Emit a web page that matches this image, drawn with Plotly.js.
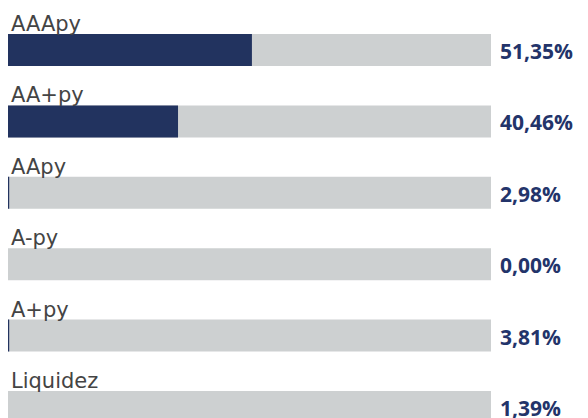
<!DOCTYPE html>
<html>
<head>
<meta charset="utf-8">
<script src="https://cdn.plot.ly/plotly-3.0.1.min.js"></script>
<style>html,body{margin:0;padding:0;background:#fff;}#chart{width:588px;height:418px;}</style>
</head>
<body>
<div id="chart"></div>
<script>
// Categories (top to bottom)
const categories = ["AAApy", "AA+py", "AApy", "A-py", "A+py", "Liquidez"];
// Value labels as printed
const valueLabels = ["51,35%", "40,46%", "2,98%", "0,00%", "3,81%", "1,39%"];
// Filled bar lengths (% of full track)
const fillLengths = [50.5, 35.2, 0.25, 0, 0.25, 0];
// Full track length
const trackLengths = [100, 100, 100, 100, 100, 100];

const NAVY = "#22335f";
const GREY = "#cdd0d1";

const traces = [
  {
    type: "bar", orientation: "h",
    y: categories, x: trackLengths,
    marker: {color: GREY}, width: 0.448,
    hoverinfo: "skip"
  },
  {
    type: "bar", orientation: "h",
    y: categories, x: fillLengths,
    marker: {color: NAVY}, width: 0.448,
    hoverinfo: "skip"
  }
];

const annotations = [];
categories.forEach((c, i) => {
  annotations.push({
    xref: "paper", yref: "y", x: 0, y: c,
    xanchor: "left", yanchor: "bottom", yshift: 12, xshift: 1,
    text: c, showarrow: false,
    font: {family: "DejaVu Sans", size: 21, weight: 400, color: "#444444"}
  });
  annotations.push({
    xref: "paper", yref: "y", x: 1, y: c,
    xanchor: "left", yanchor: "middle", xshift: 7, yshift: -1,
    text: "<b>" + valueLabels[i] + "</b>", showarrow: false,
    font: {family: "Open Sans", size: 21, color: "#23346a"}
  });
});

const layout = {
  width: 588, height: 418,
  margin: {l: 8, r: 97, t: 0, b: 0, pad: 0},
  paper_bgcolor: "#fff", plot_bgcolor: "#fff",
  barmode: "overlay", showlegend: false,
  xaxis: {range: [0, 100], visible: false, fixedrange: true},
  yaxis: {type: "category", categoryorder: "array", categoryarray: categories,
          range: [5.154, -0.700], visible: false, fixedrange: true},
  annotations: annotations
};

Plotly.newPlot("chart", traces, layout, {displayModeBar: false, staticPlot: true});
</script>
</body>
</html>
